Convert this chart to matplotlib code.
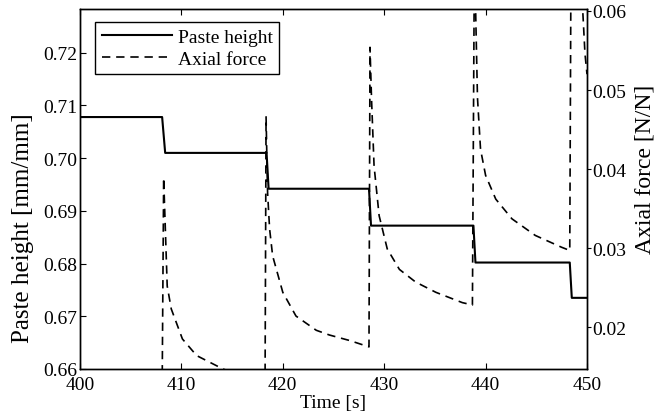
import matplotlib
matplotlib.use("Agg")
import matplotlib.pyplot as plt

plt.rcParams['font.family'] = ['Liberation Serif', 'DejaVu Serif']
plt.rcParams['font.size'] = 14

# paste height (left axis)
time_h = [400, 408.1, 408.4, 418.4, 418.6, 428.5, 428.7, 438.8, 439.0, 448.3, 448.5, 450]
height = [0.7078, 0.7078, 0.7010, 0.7010, 0.6942, 0.6942, 0.6872, 0.6872, 0.6802, 0.6802, 0.6735, 0.6735]

# axial force (right axis)
time_f = [400, 408.1, 408.25, 408.6, 409.0, 410.1, 411.5, 414.1, 418.25,
          418.35, 418.5, 418.7, 419.0, 420.0, 421.3, 423.3, 424.6, 426.6, 428.5,
          428.6, 428.75, 429.0, 429.5, 430.3, 431.5, 433.1, 435.1, 437.7, 438.7,
          438.9, 439.05, 439.2, 439.5, 440.0, 441.0, 442.6, 444.9, 447.5, 448.3,
          448.45, 449.5, 449.8, 450]
force = [0.0125, 0.0120, 0.0389, 0.0252, 0.0223, 0.0185, 0.0164, 0.0147, 0.0128,
         0.0466, 0.0370, 0.0324, 0.0290, 0.0244, 0.0214, 0.0196, 0.0190, 0.0183, 0.0175,
         0.0554, 0.0489, 0.0404, 0.0341, 0.0299, 0.0273, 0.0257, 0.0244, 0.0231, 0.0228,
         0.0680, 0.0580, 0.0490, 0.0425, 0.0392, 0.0362, 0.0337, 0.0316, 0.0301, 0.0297,
         0.0750, 0.0620, 0.0546, 0.0520]

fig = plt.figure(figsize=(6.62, 4.14), dpi=100)
ax1 = fig.add_axes([80/662, 1-370/414, 507/662, 360/414])
ax2 = ax1.twinx()

l1, = ax1.plot(time_h, height, color='black', lw=1.5, label='Paste height')
l2, = ax2.plot(time_f, force, color='black', lw=1.2, dashes=(5, 3.5), label='Axial force')

ax1.set_xlim(400, 450)
ax1.set_ylim(0.66, 0.7283)
ax2.set_ylim(0.0147, 0.06025)
ax1.set_xticks([400, 410, 420, 430, 440, 450])
ax1.set_yticks([0.66, 0.67, 0.68, 0.69, 0.70, 0.71, 0.72])
ax1.set_yticklabels(['0.66', '0.67', '0.68', '0.69', '0.70', '0.71', '0.72'])
ax2.set_yticks([0.02, 0.03, 0.04, 0.05, 0.06])
ax2.set_yticklabels(['0.02', '0.03', '0.04', '0.05', '0.06'])

ax1.tick_params(axis='x', direction='in', top=True, length=4, pad=5, labelsize=14)
ax1.tick_params(axis='y', direction='in', length=4, pad=2, labelsize=14)
ax2.tick_params(axis='y', direction='out', length=3, pad=1, labelsize=14)
for ax in (ax1, ax2):
    for s in ax.spines.values():
        s.set_linewidth(1.0)

ax1.set_xlabel('Time [s]')
ax1.xaxis.set_label_coords(0.5, -0.07)
ax1.set_ylabel('Paste height [mm/mm]', fontsize=18)
ax1.yaxis.set_label_coords(-0.090, 0.394)
ax2.set_ylabel('Axial force [N/N]', rotation=90, fontsize=17)
ax2.yaxis.set_label_coords(1.093, 0.558)

leg = ax2.legend(handles=[l1, l2], loc='upper left', bbox_to_anchor=(0.0296, 0.965),
                 borderaxespad=0, fancybox=False, handlelength=3.6, handletextpad=0.3,
                 borderpad=0.35, labelspacing=0.2, fontsize=14, framealpha=1)
leg.get_frame().set_edgecolor('black')
leg.get_frame().set_linewidth(1.0)

fig.savefig('out.png', dpi=100)
